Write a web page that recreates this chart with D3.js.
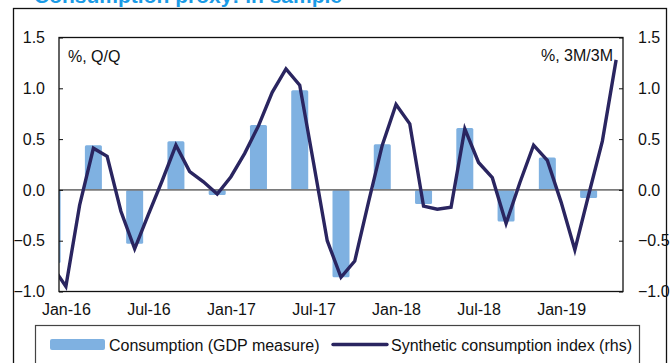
<!DOCTYPE html>
<html>
<head>
<meta charset="utf-8">
<script src="https://cdn.jsdelivr.net/npm/d3@7"></script>
<style>
  html, body { margin: 0; padding: 0; background: #fff; }
  svg { display: block; font-family: "Liberation Sans", Arial, sans-serif; }
</style>
</head>
<body>
<svg id="chart" width="671" height="363"></svg>
<script>
// Monthly synthetic index, Dec-15 .. May-19 (% 3M/3M, right axis)
const months = [
  "2015-12",
  "2016-01","2016-02","2016-03","2016-04","2016-05","2016-06",
  "2016-07","2016-08","2016-09","2016-10","2016-11","2016-12",
  "2017-01","2017-02","2017-03","2017-04","2017-05","2017-06",
  "2017-07","2017-08","2017-09","2017-10","2017-11","2017-12",
  "2018-01","2018-02","2018-03","2018-04","2018-05","2018-06",
  "2018-07","2018-08","2018-09","2018-10","2018-11","2018-12",
  "2019-01","2019-02","2019-03","2019-04","2019-05"
];
const syntheticIndex = [
  -0.75,
  -0.95, -0.15, 0.41, 0.33, -0.21, -0.58,
  -0.24, 0.09, 0.44, 0.18, 0.08, -0.04,
  0.13, 0.36, 0.63, 0.96, 1.19, 1.03,
  0.27, -0.50, -0.86, -0.70, -0.12, 0.44,
  0.84, 0.65, -0.16, -0.19, -0.17, 0.60,
  0.27, 0.12, -0.33, 0.07, 0.44, 0.29,
  -0.12, -0.59, -0.05, 0.48, 1.28
];

// Quarterly consumption growth (% Q/Q, left axis), dated at quarter-end month
const quarters = [
  "2015-12","2016-03","2016-06","2016-09","2016-12",
  "2017-03","2017-06","2017-09","2017-12",
  "2018-03","2018-06","2018-09","2018-12","2019-03"
];
const consumption = [
  -0.72, 0.44, -0.53, 0.48, -0.05,
  0.64, 0.98, -0.86, 0.45,
  -0.14, 0.61, -0.31, 0.32, -0.08
];

const xTickMonths = ["2016-01","2016-07","2017-01","2017-07","2018-01","2018-07","2019-01"];
const xTickLabels = ["Jan-16","Jul-16","Jan-17","Jul-17","Jan-18","Jul-18","Jan-19"];
const yTicks = [-1.0, -0.5, 0.0, 0.5, 1.0, 1.5];

const titleText = "Consumption proxy: in sample";
const leftUnit = "%, Q/Q";
const rightUnit = "%, 3M/3M";
const legendBars = "Consumption (GDP measure)";
const legendLine = "Synthetic consumption index (rhs)";

const svg = d3.select("#chart");
const W = 671, H = 363;
const plot = { left: 59, right: 623, top: 37.5, bottom: 291.5 };

const barColor = "#7fb1e1";
const lineColor = "#2a2560";
const frameColor = "#111";

// month string -> index from Jan-16
const monthIndex = s => {
  const [y, m] = s.split("-").map(Number);
  return (y - 2016) * 12 + (m - 1);
};

const x = d3.scaleLinear().domain([-0.5, 40.5]).range([plot.left, plot.right]);
const yL = d3.scaleLinear().domain([-1, 1.5]).range([plot.bottom, plot.top]);
const yR = d3.scaleLinear().domain([-1, 1.5]).range([plot.bottom, plot.top]);

// cut-off title above the frame
svg.append("text")
  .attr("x", 34).attr("y", 3)
  .attr("fill", "#1a9be6")
  .attr("font-size", 21).attr("font-weight", "bold")
  .text(titleText);

// outer frame
svg.append("rect")
  .attr("x", 13.5).attr("y", 8.5)
  .attr("width", 653).attr("height", 370)
  .attr("fill", "none").attr("stroke", frameColor).attr("stroke-width", 1.3);

const defs = svg.append("defs");
defs.append("clipPath").attr("id", "plotClip")
  .append("rect")
  .attr("x", plot.left).attr("y", plot.top)
  .attr("width", plot.right - plot.left).attr("height", plot.bottom - plot.top);

const g = svg.append("g").attr("clip-path", "url(#plotClip)");

// bars
const barW = 17;
g.selectAll("rect.bar")
  .data(quarters.map((q, i) => ({ q, v: consumption[i] })))
  .join("rect")
  .attr("class", "bar")
  .attr("x", d => x(monthIndex(d.q)) - barW / 2)
  .attr("y", d => Math.min(yL(d.v), yL(0)))
  .attr("width", barW)
  .attr("height", d => Math.abs(yL(d.v) - yL(0)))
  .attr("rx", 1.5)
  .attr("fill", barColor);

// zero line
g.append("line")
  .attr("x1", plot.left).attr("x2", plot.right)
  .attr("y1", yL(0)).attr("y2", yL(0))
  .attr("stroke", "#7a7a7a").attr("stroke-width", 1.6);

// synthetic index line
const line = d3.line()
  .x(d => x(monthIndex(d.m)))
  .y(d => yR(d.v));
g.append("path")
  .datum(months.map((m, i) => ({ m, v: syntheticIndex[i] })))
  .attr("d", line)
  .attr("fill", "none")
  .attr("stroke", lineColor)
  .attr("stroke-width", 3.4)
  .attr("stroke-linejoin", "miter");

// plot box
svg.append("rect")
  .attr("x", plot.left).attr("y", plot.top)
  .attr("width", plot.right - plot.left).attr("height", plot.bottom - plot.top)
  .attr("fill", "none").attr("stroke", frameColor).attr("stroke-width", 1.3);

// left axis (inward ticks)
const axisL = d3.axisRight(yL).tickValues(yTicks).tickFormat(d3.format(".1f")).tickSize(4).tickPadding(-14);
const gL = svg.append("g").attr("transform", `translate(${plot.left},0)`).call(axisL);
gL.select(".domain").remove();
gL.selectAll(".tick line").attr("stroke", frameColor);
gL.selectAll(".tick text")
  .attr("text-anchor", "end")
  .attr("x", -14)
  .attr("font-size", 16).attr("fill", "#111")
  .attr("font-family", "Liberation Sans, Arial, sans-serif");

// right axis (inward ticks)
const axisR = d3.axisLeft(yR).tickValues(yTicks).tickFormat(d3.format(".1f")).tickSize(4);
const gR = svg.append("g").attr("transform", `translate(${plot.right},0)`).call(axisR);
gR.select(".domain").remove();
gR.selectAll(".tick line").attr("stroke", frameColor);
gR.selectAll(".tick text")
  .attr("text-anchor", "start")
  .attr("x", 15)
  .attr("font-size", 16).attr("fill", "#111")
  .attr("font-family", "Liberation Sans, Arial, sans-serif");

// bottom axis labels
const axisB = d3.axisBottom(x)
  .tickValues(xTickMonths.map(monthIndex))
  .tickFormat((d, i) => xTickLabels[i])
  .tickSize(0).tickPadding(12);
const gB = svg.append("g").attr("transform", `translate(0,${plot.bottom})`).call(axisB);
gB.select(".domain").remove();
gB.selectAll(".tick text")
  .attr("font-size", 16).attr("fill", "#111")
  .attr("font-family", "Liberation Sans, Arial, sans-serif");

// unit labels
svg.append("text").attr("x", 68).attr("y", 62)
  .attr("font-size", 16).attr("fill", "#111").text(leftUnit);
svg.append("text").attr("x", 613).attr("y", 61).attr("text-anchor", "end")
  .attr("font-size", 16).attr("fill", "#111").text(rightUnit);

// legend
svg.append("rect")
  .attr("x", 35.5).attr("y", 325.5).attr("width", 604).attr("height", 60)
  .attr("fill", "#fff").attr("stroke", "#444").attr("stroke-width", 1.2);
svg.append("rect")
  .attr("x", 50).attr("y", 339).attr("width", 55).attr("height", 11).attr("rx", 2)
  .attr("fill", barColor);
svg.append("text").attr("x", 109).attr("y", 350.5)
  .attr("font-size", 16).attr("fill", "#111").text(legendBars);
svg.append("line")
  .attr("x1", 333).attr("x2", 387).attr("y1", 344.5).attr("y2", 344.5)
  .attr("stroke", lineColor).attr("stroke-width", 3.4).attr("stroke-linecap", "round");
svg.append("text").attr("x", 391).attr("y", 350.5)
  .attr("font-size", 16).attr("fill", "#111").text(legendLine);
</script>
</body>
</html>
